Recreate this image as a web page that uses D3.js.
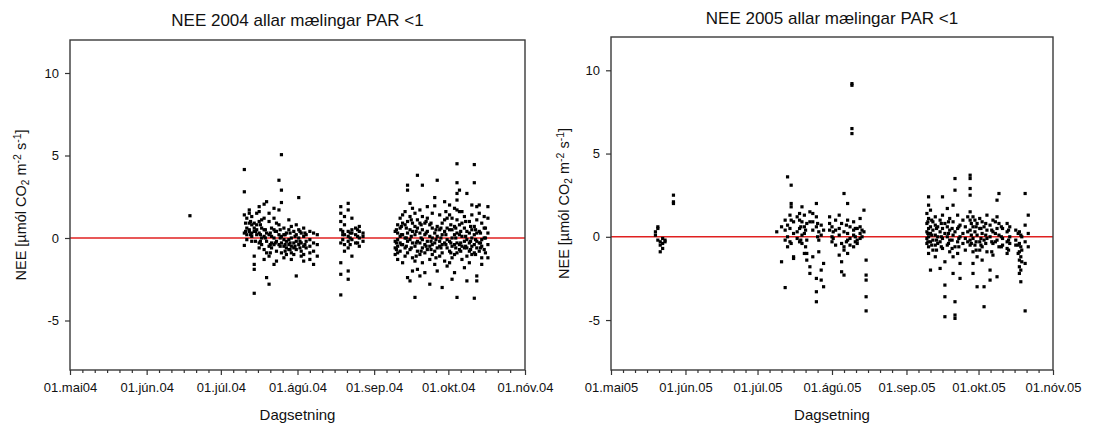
<!DOCTYPE html>
<html><head><meta charset="utf-8">
<script src="https://cdn.jsdelivr.net/npm/d3@7"></script>
<style>
body{margin:0;background:#fff;}
svg text{font-family:Arial,"Liberation Sans",sans-serif;fill:#111;}
</style></head><body>
<svg id="c" width="1096" height="427"></svg>
<script>
// ---- data (days after 1 May; NEE values per day column) ----
const titles = ["NEE 2004 allar mælingar PAR <1", "NEE 2005 allar mælingar PAR <1"];
const xLabels2004 = ["01.mai04","01.jún.04","01.júl.04","01.ágú.04","01.sep.04","01.okt.04","01.nóv.04"];
const xLabels2005 = ["01.mai05","01.jún.05","01.júl.05","01.ágú.05","01.sep.05","01.okt.05","01.nóv.05"];
const yTicks = [-5, 0, 5, 10];
const yDomain = [-8, 12];

const days2004 = [48.5,
 70.5,71.5,72.5,73.5,74.5,75.5,76.5,77.5,78.5,79.5,80.5,81.5,82.5,83.5,84.5,85.5,86.5,87.5,88.5,89.5,90.5,91.5,92.5,93.5,94.5,95.5,97,98.5,100,
 109.5,111,112.5,114,115.5,117,118.5,
 131.5,132.5,133.5,134.5,135.5,136.5,137.5,138.5,139.5,140.5,141.5,142.5,143.5,144.5,145.5,146.5,147.5,148.5,149.5,150.5,151.5,152.5,153.5,154.5,155.5,156.5,157.5,158.5,159.5,160.5,161.5,162.5,163.5,164.5,165.5,166.5,167.5,169,
 71,73,75,77,79,81,83,85,87,89,91,93,95,110.3,113.3,116.3,
 132,134,136,138,140,142,144,146,148,150,152,154,156,158,160,162,164,166,168];
const nee2004 = [[1.35],
 [4.15,2.8,1.4,0.3,-0.45],[1.2,0.6,0.2,-0.1],[1.7,1.5,0.9,0.5,0.4],[1.3,0.8,0.3,0.1,-0.2],[0.9,0.4,0.6,-1.1,-1.6,-1.9,-3.35],
 [1.5,0.8,0.5,0.2],[1.9,1.6,1.0,0.3,-0.3,-0.6],[1.1,0.6,0.0,-0.4],[2.05,1.2,0.5,0.1,-0.7,-1.3],[2.2,0.3,-0.2,-0.9,-2.4],
 [1.5,1.0,0.2,-0.5,-1.1,-2.8],[0.6,0.1,-0.3,-0.6],[1.8,1.2,0.5,0.0,-0.4,-1.6],[0.9,0.4,-0.2,-0.8,-1.4],[3.5,1.7,0.8,0.2,-0.4],
 [5.05,2.9,2.15,0.1,-0.3,-0.9],[0.6,0.2,-0.1,-0.5,-1.2],[0.3,-0.2,-0.6,-1.0],[1.1,0.5,-0.1,-0.4,-0.7],[0.7,0.0,-0.5,-0.9,-1.3],
 [0.4,-0.3,-0.6,-1.0],[0.8,0.2,-0.2,-0.7,-2.3],[2.45,0.5,0.0,-0.4],[0.3,-0.3,-0.8,-1.1],[0.6,0.1,-0.5,-1.0,-1.4],
 [0.2,-0.2,-0.6],[0.4,-0.1,-0.5,-0.9,-1.3],[0.3,-0.3,-0.8,-1.6],[0.2,-0.4,-1.1],
 [1.9,1.5,1.0,0.5,-0.3,-1.5,-2.2,-3.45],[1.3,0.8,0.2,-0.4,-0.8],[2.1,1.7,0.4,0.1,-0.2,-0.6,-2.0,-2.5],[1.2,0.5,0.3,-0.1,-1.1],
 [0.6,0.2,-0.3],[0.7,0.4,0.0,-0.5],[0.3,0.1,-0.2],
 [0.4,-0.2,-0.6,-1.0],[0.8,0.3,-0.1,-0.5,-0.9,-1.3],[1.2,0.6,0.1,-0.3,-0.8],[1.4,0.9,0.2,-0.4,-1.5],[1.6,0.8,0.0,-0.6,-1.1],
 [3.2,2.9,1.0,0.3,-0.2,-0.9,-2.4],[2.1,1.3,0.5,-0.1,-0.7,-2.6],[1.8,0.9,0.4,-0.3,-1.2,-2.0],[1.5,0.7,0.2,-0.5,-1.4,-3.6],
 [3.8,1.1,0.6,-0.2,-0.8,-1.9],[1.7,0.9,0.3,-0.3,-1.0,-2.3],[3.2,1.3,0.5,-0.1,-0.6,-1.5],[0.9,0.2,-0.4,-0.9,-2.1],
 [1.9,1.2,0.4,-0.2,-0.7],[0.8,0.1,-0.5,-1.3,-2.8],[1.5,0.6,0.0,-0.4,-1.0],[2.45,1.95,0.3,-0.3,-0.8,-1.6],[3.5,0.7,0.1,-0.6,-2.0],
 [1.4,0.5,-0.2,-0.5,-1.1],[0.9,0.2,-0.4,-0.9,-3.0],[2.2,1.1,0.4,-0.3,-1.4],[1.2,0.6,-0.1,-0.6,-1.7],[2.0,1.4,0.5,-0.2,-0.8,-1.5],
 [1.2,0.5,0.0,-0.5,-1.2,-2.5],[1.8,0.7,0.2,-0.4,-1.0,-2.1],[4.5,3.35,2.7,2.3,1.7,1.1,0.3,-0.3,-0.9,-3.6],[2.9,1.6,0.8,0.2,-0.4,-0.7],
 [1.6,0.9,0.1,-0.5,-1.3],[1.3,0.6,-0.2,-0.6,-1.8],[2.7,0.4,-0.1,-0.6,-1.1,-2.6],[1.0,0.3,-0.3,-0.8,-1.5],[2.0,1.4,0.5,0.0,-0.5,-1.0],
 [4.45,3.35,0.7,0.2,-0.4,-0.9,-3.65],[1.9,1.1,0.3,-0.2,-0.6,-2.3,-2.6],[2.0,1.5,0.4,-0.3,-0.8],[0.9,-0.1,-0.5,-1.2,-1.6],
 [1.3,0.6,0.0,-0.7],[1.9,1.2,0.3,-0.4,-1.2],
 [0.9,0.4],[1.0,0.2],[0.4,-0.2],[0.8,0.2,-0.2],[0.5,0.0],[0.3,-0.4,-0.9],[0.4,-0.3],[0.5,0.0,-0.5],[0.2,-0.4,-0.8],
 [0.3,-0.3,-0.7],[0.1,-0.5],[0.4,-0.2,-0.6],[0.3,-0.4],[0.2,-0.1,0.4],[0.3,-0.4,0.0],[0.5,0.1,-0.3],
 [0.5,-0.3,-0.7],[0.2,-0.4,0.7],[0.6,0.0,-0.5],[1.1,0.1,-0.6],[0.4,-0.3,-1.1],[0.8,0.0,-0.8],[0.3,-0.5,1.0],[0.9,-0.2,-0.7],
 [0.5,-0.1,-1.2],[0.6,0.0,-0.6],[1.6,0.2,-0.4],[0.8,-0.3,-0.9],[0.6,0.0,-0.6],[0.4,-0.3,-0.8],[1.0,0.1,-0.5],[0.7,-0.2,-0.7],
 [0.5,-0.1,-1.0],[0.3,-0.3,-0.6],[0.6,0.0,-0.9]];

const days2005 = [18.5,19.5,20.5,21.5,22.5,26,
 69,71,72.5,73.5,75,76,77.5,78.5,79.5,80.5,81.5,82.8,84,85.5,86.5,87.5,88.5,91,92,93.5,95,96,97,98.5,99.5,100.3,101,102.5,103.7,105.3,106.2,
 131.5,132.2,133,134,135,136,137,138,139,140,141,142.4,143.2,144.3,145.3,146.5,147.5,149.5,150.7,151.5,152.4,153.5,154.5,155.3,156.5,157.8,159,160.7,161.5,163,164.9,166,168.5,170,170.6,172.4,173.7,
 74.5,79,81,86,92.5,98,101.7,104.5,
 131.9,133.5,135.5,137.5,140.5,142,144.8,148.5,150,152,154,156,158.5,160,162.5,165.5,169.5,171];
const nee2005 = [[0.3,0.1],[0.5,0.6,-0.2],[-0.3,-0.5,-0.9],[-0.1,-0.4,-0.7],[-0.2,-0.3],[2.5,2.1,2.0],
 [0.3],[-1.5,0.6],[1.0,0.4,-0.2,-3.05],[3.6,0.7,0.0,-0.6],[3.1,2.0,1.8,1.0,-0.4],[0.9,0.2,-1.2,-1.3],[1.2,0.3,-0.1],
 [1.4,1.0,0.5,-0.3],[1.8,0.9,0.1,-0.4],[1.3,0.6,0.2,-1.0],[0.8,-0.2,-1.4,-1.0],[1.5,0.9,-1.8,-2.2],[1.4,0.9,0.4,-1.2],
 [2.0,1.2,0.6,-2.5,-3.3,-3.9],[-0.9,-0.2,0.3],[0.7,0.1,-2.0,-2.6],[-3.0,-1.6,0.4],[1.2,0.8,0.4],[0.6,0.0,-0.3],[1.0,0.4,-0.5],
 [1.3,0.5,0.1,-1.1],[0.8,-0.4,-1.5,-2.1],[2.6,0.3,-0.6,-2.3,-0.8],[2.0,1.0,0.2,-0.2,-1.0],[0.6,-0.1,-0.5],[9.2,9.1,6.5,6.2],
 [0.9,0.4,0.1,-0.6],[0.5,-0.2,-0.4],[1.1,0.6,0.2,-0.1],[1.6,0.3],[-1.4,-2.3,-2.6,-3.6,-4.45],
 [1.4,0.8,0.3,-0.1,-0.4],[2.4,1.9,1.1,0.5,0.0,-0.6,-1.0],[1.6,0.6,0.2,-0.3,-2.0],[0.9,0.4,-0.2,-0.8],[1.2,0.7,0.1,-0.5,-1.2],
 [0.6,0.0,-0.4],[1.0,0.3,-0.3,-1.9],[2.4,1.3,0.5,-0.1,-0.7],[0.8,0.2,-1.5,-2.9,-3.6,-4.8],[1.7,0.6,0.0,-0.5],[1.1,0.4,-0.2,-0.9],
 [1.9,0.9,0.1,-1.2,-2.2],[3.5,2.8,0.3,-0.6,-3.9,-4.7,-4.9],[1.3,0.5,-0.3,-1.0],[0.7,0.0,-1.6,-2.5],[1.0,0.2,-0.4],[0.6,-0.1,-0.8],
 [3.7,3.5,2.9,2.5,1.5,1.0,0.4,-0.2,-0.5],[1.2,0.6,-0.1,-0.9,-1.6,-2.2],[1.0,0.3,-0.5],[0.8,0.1,-1.2,-3.0],[1.1,0.5,-0.3,-0.8],
 [0.9,0.2,-0.6,-1.4],[0.6,-0.2,-3.0,-4.2],[1.3,0.4,-0.1,-0.9],[0.7,0.0,-2.0,-2.6],[1.0,0.3,-0.4,-1.1],[2.2,1.2,0.5,-0.2,-2.4],
 [2.6,0.8,0.1,-0.6],[0.5,-0.1,-0.5],[0.8,0.3,-0.3,-0.7,-1.0],[0.6,0.0,-0.4],[0.4,-0.2,-0.5],[0.3,-0.4,-0.9,-1.4,-1.8,-2.2],
 [0.1,-0.6,-1.2,-2.0,-2.7],[2.6,0.7,-0.3,-1.6,-4.45],[1.3,0.2,-0.6],
 [1.3,0.5,-0.3],[0.6,-0.2],[0.4,-0.6],[0.8,0.0],[0.3,-0.1],[0.7,-0.3],[0.5,0.0,-0.3],[0.4,0.0],
 [0.9,0.2,-0.3],[1.0,0.1,-0.5],[0.5,-0.2,-0.8],[0.8,0.0,-0.6],[0.9,0.2,-0.4],[0.5,-0.2,-0.7],[0.6,-0.1,-0.6],[1.2,0.3,-0.3],
 [0.8,0.1,-0.4],[0.6,-0.3,-0.8],[0.5,-0.1,-0.5],[0.8,0.1,-0.4],[0.4,-0.3,-0.9],[0.9,0.2,-0.3],[0.6,0.0,-0.6],[0.4,-0.2,-0.8],
 [0.2,-0.5,-1.0],[0.0,-0.8,-1.5]];

// ---- drawing ----
const svg = d3.select("#c");

function drawPanel(o){
  const start = new Date(Date.UTC(o.year,4,1)), end = new Date(Date.UTC(o.year,10,1));
  const x = d3.scaleUtc().domain([start,end]).range([o.x0,o.x1]);
  const y = d3.scaleLinear().domain(yDomain).range([o.y1,o.y0]);
  const g = svg.append("g");

  g.append("text").attr("x",(o.x0+o.x1)/2).attr("y",o.titleY).attr("text-anchor","middle")
    .style("font-size","17px").text(o.title);

  g.append("line").attr("x1",o.x0).attr("x2",o.x1).attr("y1",y(0)).attr("y2",y(0))
    .attr("stroke","#e02020").attr("stroke-width",1.6);

  const pts = [];
  o.days.forEach((d,i)=>o.vals[i].forEach(v=>pts.push([new Date(start.getTime()+d*864e5), v])));
  g.append("g").selectAll("rect").data(pts).join("rect")
    .attr("x",p=>x(p[0])-1.6).attr("y",p=>y(p[1])-1.6).attr("width",3.2).attr("height",3.2).attr("fill","#000");

  g.append("rect").attr("x",o.x0).attr("y",o.y0).attr("width",o.x1-o.x0).attr("height",o.y1-o.y0)
    .attr("fill","none").attr("stroke","#3a3a3a").attr("stroke-width",1.4);

  const minor = [];
  d3.utcMonth.range(start,end).forEach(m=>{[5,10,15,20,25].forEach(k=>minor.push(d3.utcDay.offset(m,k)));});
  const xa = g.append("g").attr("transform",`translate(0,${o.y1})`);
  xa.call(d3.axisBottom(x).tickValues(minor).tickSize(3).tickFormat(""));
  const months = d3.utcMonth.range(start, d3.utcDay.offset(end,1));
  const xb = g.append("g").attr("transform",`translate(0,${o.y1})`);
  xb.call(d3.axisBottom(x).tickValues(months).tickSize(5).tickPadding(8)
    .tickFormat((d,i)=>o.xLabels[i]));
  [xa,xb].forEach(a=>{a.select(".domain").remove(); a.selectAll("line").attr("stroke","#333").attr("stroke-width",1.2);});
  xb.selectAll("text").style("font-size","13px").style("font-family","Arial,'Liberation Sans',sans-serif").attr("fill","#111");

  const ya = g.append("g").attr("transform",`translate(${o.x0},0)`);
  ya.call(d3.axisLeft(y).tickValues(yTicks).tickSize(5).tickPadding(6).tickFormat(d=>String(d)));
  ya.select(".domain").remove();
  ya.selectAll("line").attr("stroke","#333").attr("stroke-width",1.2);
  ya.selectAll("text").style("font-size","13px").style("font-family","Arial,'Liberation Sans',sans-serif").attr("fill","#111");

  g.append("text").attr("x",(o.x0+o.x1)/2).attr("y",o.y1+50).attr("text-anchor","middle")
    .style("font-size","15px").text("Dagsetning");

  const yt = g.append("text").attr("transform",`translate(${o.ylabX},${(o.y0+o.y1)/2}) rotate(-90)`)
    .attr("text-anchor","middle").style("font-size","14.5px");
  yt.append("tspan").text("NEE [µmól CO");
  yt.append("tspan").attr("baseline-shift","-25%").style("font-size","10px").text("2");
  yt.append("tspan").text(" m");
  yt.append("tspan").attr("baseline-shift","45%").style("font-size","10.5px").text("-2");
  yt.append("tspan").text(" s");
  yt.append("tspan").attr("baseline-shift","45%").style("font-size","10.5px").text("-1");
  yt.append("tspan").text("]");
}

drawPanel({year:2004, x0:70, x1:525, y0:40, y1:370, titleY:26, ylabX:26,
  title:titles[0], xLabels:xLabels2004, days:days2004, vals:nee2004});
drawPanel({year:2005, x0:611, x1:1053, y0:37, y1:370, titleY:24, ylabX:569,
  title:titles[1], xLabels:xLabels2005, days:days2005, vals:nee2005});
</script>
</body></html>
